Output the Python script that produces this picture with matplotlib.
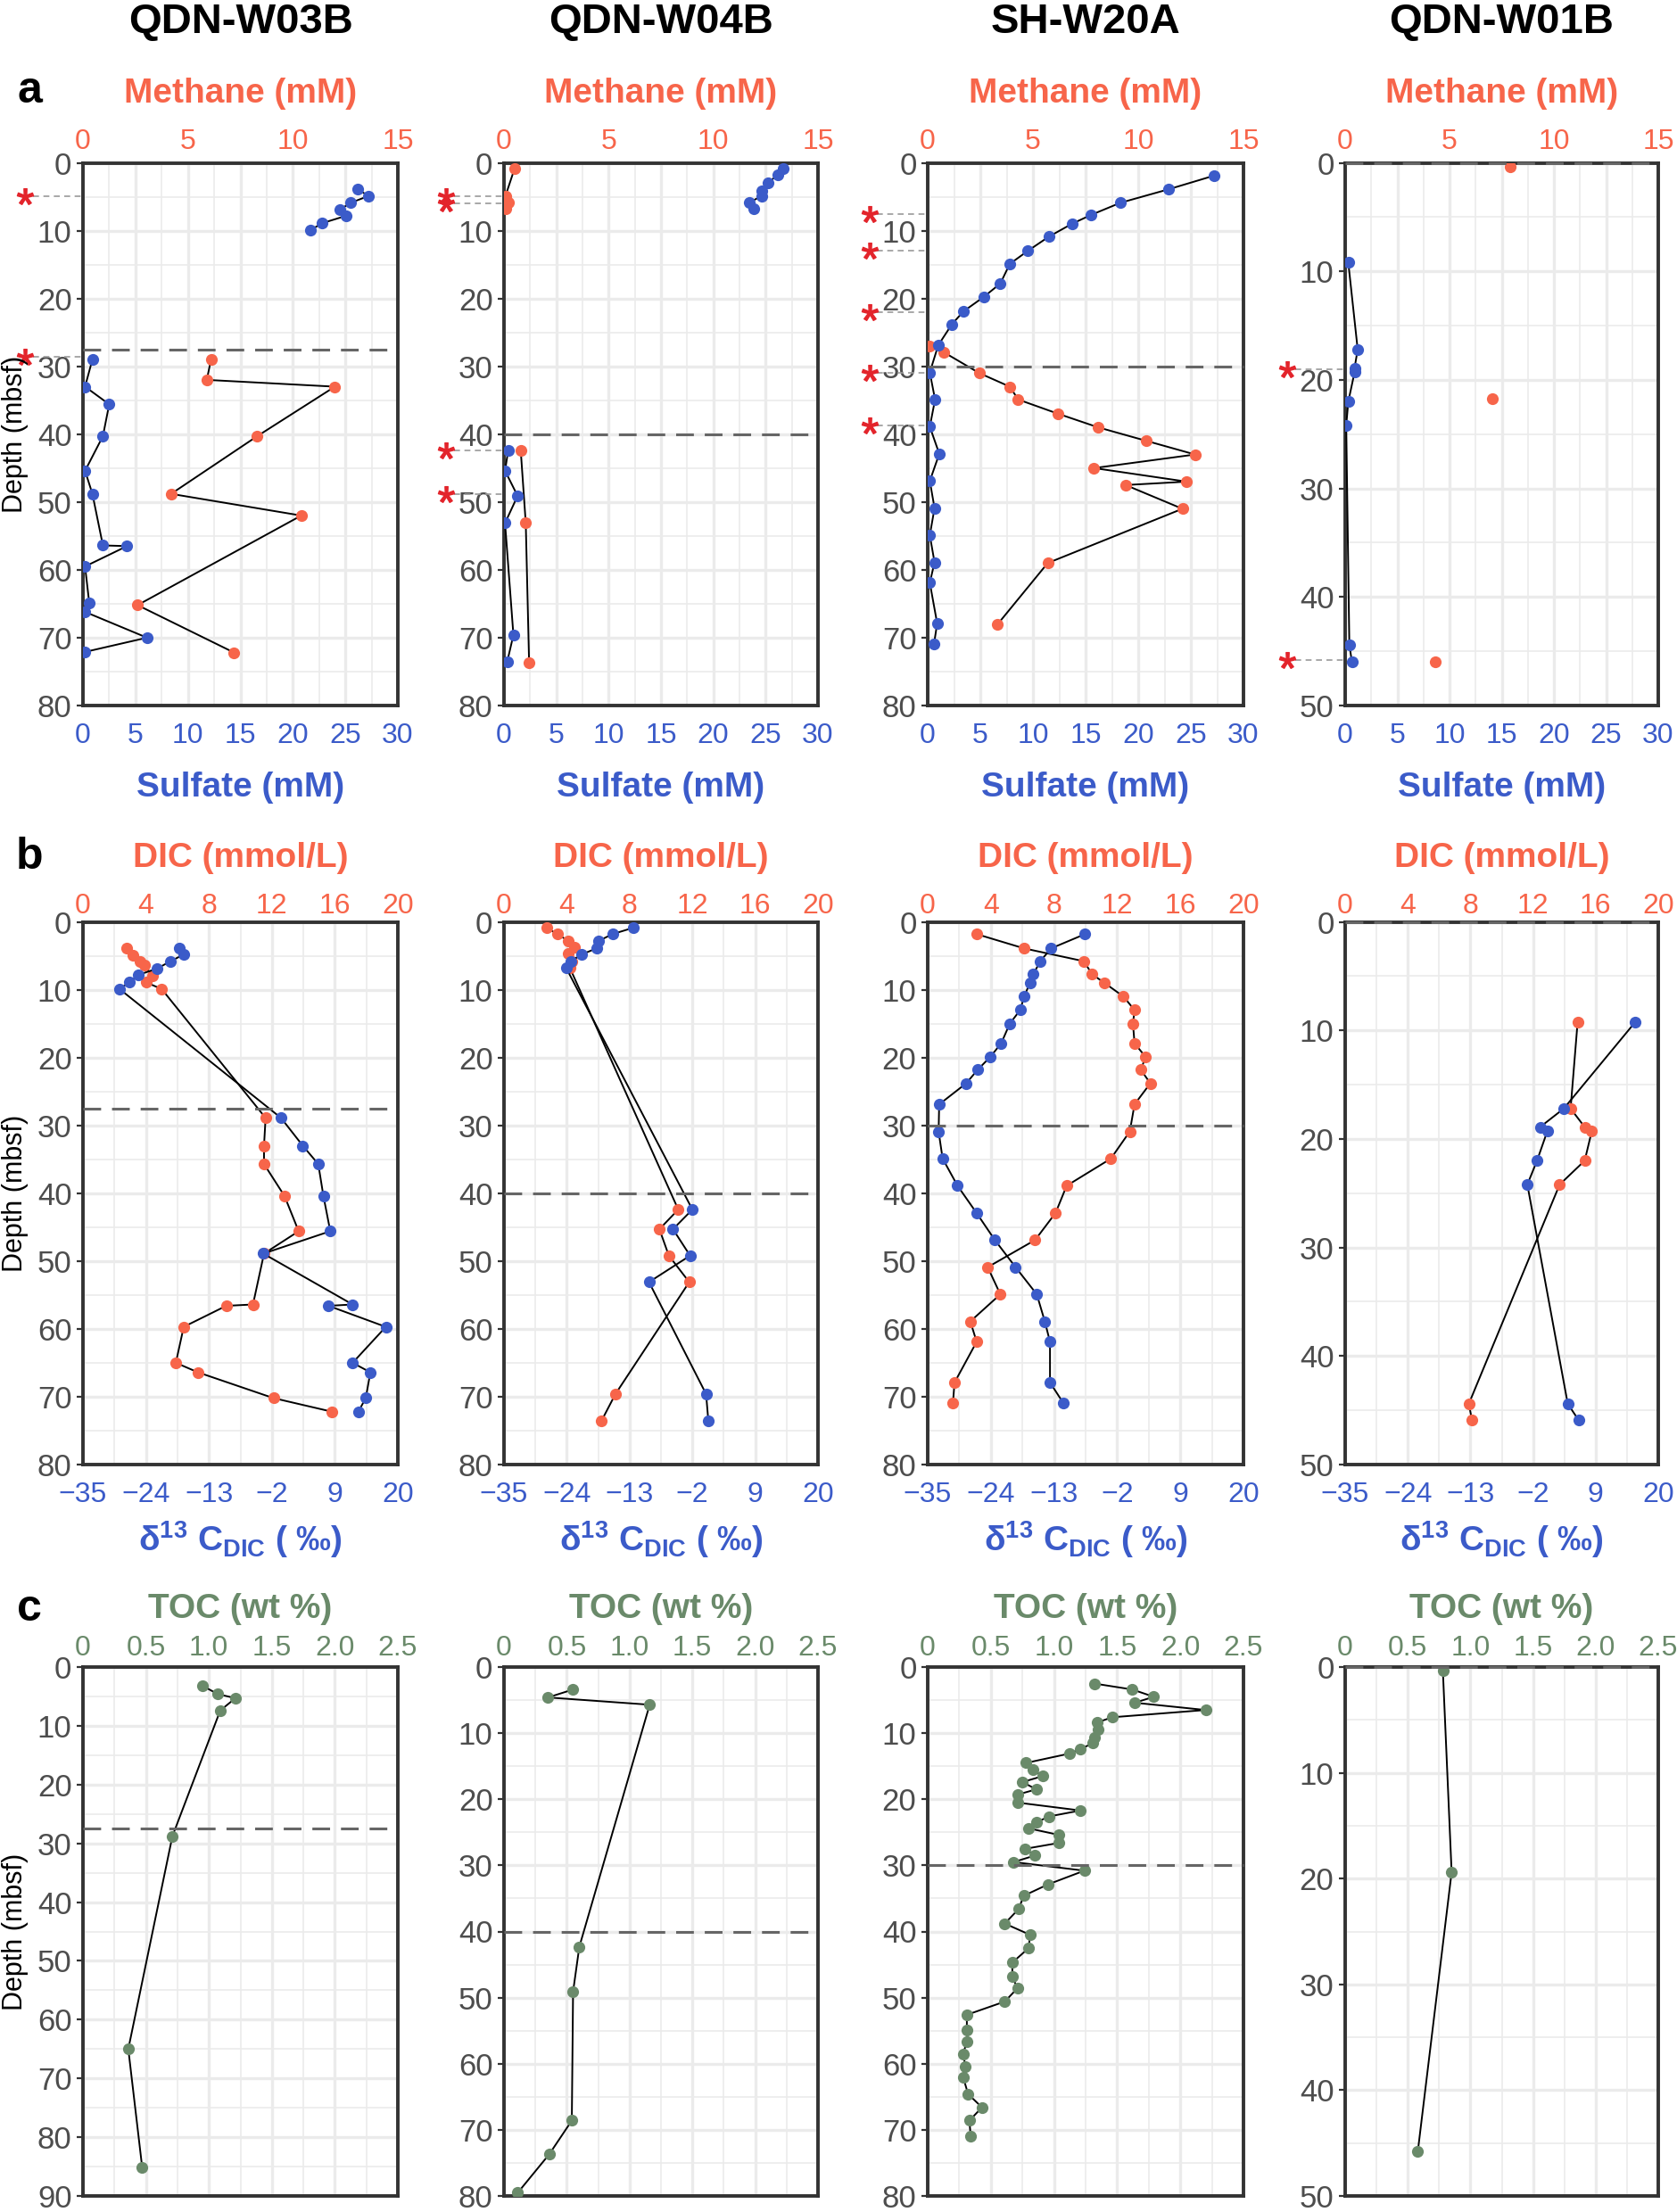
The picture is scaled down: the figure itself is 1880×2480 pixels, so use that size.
import matplotlib
matplotlib.use('Agg')
import matplotlib.pyplot as plt
from matplotlib import font_manager
from matplotlib.ticker import MultipleLocator, FuncFormatter

W, H = 1880, 2480

plt.rcParams['font.family'] = ['Liberation Sans', 'DejaVu Sans']
plt.rcParams['mathtext.fontset'] = 'custom'
plt.rcParams['mathtext.rm'] = 'Liberation Sans'
plt.rcParams['mathtext.bf'] = 'Liberation Sans:bold'
plt.rcParams['mathtext.it'] = 'Liberation Sans:italic'

names = {f.name for f in font_manager.fontManager.ttflist}
depth_font = 'Liberation Sans Narrow' if 'Liberation Sans Narrow' in names else 'Liberation Sans'

ORANGE = '#F7654A'
BLUE = '#3B5BC9'
GREEN = '#6A8A6A'
RED = '#E3242B'
FRAME = '#333333'
GRIDC = '#EBEBEB'
TICKC = '#4D4D4D'
SMTZC = '#666666'

sites = ['QDN-W03B', 'QDN-W04B', 'SH-W20A', 'QDN-W01B']

# ---------------- row a: sulfate / methane ----------------
# QDN-W03B
w03b_so4_up_d = [3.9, 4.9, 5.9, 6.9, 7.8, 8.9, 9.9]
w03b_so4_up = [26.2, 27.2, 25.5, 24.5, 25.1, 22.8, 21.7]
w03b_so4_lo_d = [29.0, 33.0, 35.6, 40.3, 45.4, 48.8, 56.4, 56.5, 59.5, 64.9, 66.2, 70.0, 72.1]
w03b_so4_lo = [0.9, 0.2, 2.5, 1.9, 0.2, 0.9, 1.9, 4.2, 0.2, 0.6, 0.2, 6.1, 0.2]
w03b_ch4_d = [29.0, 32.0, 33.0, 40.3, 48.8, 52.0, 65.2, 72.2]
w03b_ch4 = [6.1, 5.9, 12.0, 8.3, 4.2, 10.4, 2.6, 7.2]
# QDN-W04B
w04b_so4_up_d = [0.9, 1.8, 2.9, 4.1, 4.9, 5.9, 6.8]
w04b_so4_up = [26.7, 26.2, 25.2, 24.6, 24.6, 23.4, 23.9]
w04b_ch4_up_d = [0.9, 4.9, 5.9, 6.8]
w04b_ch4_up = [0.5, 0.07, 0.2, 0.07]
w04b_so4_lo_d = [42.4, 45.4, 49.1, 53.1, 69.6, 73.6]
w04b_so4_lo = [0.4, 0.1, 1.3, 0.1, 0.9, 0.3]
w04b_ch4_lo_d = [42.4, 53.1, 73.7]
w04b_ch4_lo = [0.8, 1.04, 1.2]
# SH-W20A
w20a_so4_d = [1.9, 3.9, 5.9, 7.7, 9.0, 10.9, 13.0, 14.9, 17.8, 19.8, 21.9, 23.8,
              26.9, 30.9, 34.9, 38.9, 42.9, 46.9, 50.9, 54.9, 58.9, 61.9, 67.9, 70.9]
w20a_so4 = [27.2, 22.9, 18.3, 15.5, 13.7, 11.5, 9.5, 7.8, 6.9, 5.3, 3.4, 2.3,
            1.0, 0.2, 0.7, 0.2, 1.1, 0.2, 0.65, 0.2, 0.65, 0.2, 0.9, 0.6]
w20a_ch4_d = [27.0, 27.9, 31.0, 33.0, 34.9, 37.0, 39.0, 41.0, 43.0, 45.0, 47.0, 47.5, 51.0, 59.0, 68.1]
w20a_ch4 = [0.1, 0.75, 2.45, 3.9, 4.3, 6.2, 8.1, 10.4, 12.7, 7.9, 12.3, 9.4, 12.1, 5.7, 3.3]
# QDN-W01B
w01b_so4_d = [9.2, 17.2, 18.9, 19.3, 22.0, 24.2, 44.4, 46.0]
w01b_so4 = [0.3, 1.2, 0.9, 0.9, 0.3, 0.1, 0.4, 0.65]
w01b_ch4_d = [0.4, 21.7, 46.0]
w01b_ch4 = [7.9, 7.05, 4.3]

# ---------------- row b: DIC / d13C-DIC ----------------
w03b_dic_d = [3.9, 4.9, 5.8, 6.4, 7.9, 8.9, 9.9, 28.9, 33.0, 35.7, 40.4, 45.6, 48.9,
              56.4, 56.6, 59.7, 65.0, 66.4, 70.2, 72.2]
w03b_dic = [2.8, 3.2, 3.6, 3.9, 4.4, 4.0, 5.0, 11.6, 11.5, 11.5, 12.8, 13.7, 11.5,
            10.8, 9.1, 6.4, 5.9, 7.3, 12.1, 15.8]
w03b_d13_d = [3.9, 4.8, 5.8, 6.9, 7.8, 8.9, 9.9, 28.9, 33.0, 35.7, 40.4, 45.6, 48.9,
              56.4, 56.6, 59.7, 65.0, 66.4, 70.2, 72.2]
w03b_d13 = [-18.2, -17.4, -19.7, -22.1, -25.3, -26.9, -28.6, -0.4, 3.4, 6.1, 7.0, 8.2, -3.5,
            12.1, 7.9, 17.9, 12.1, 15.2, 14.4, 13.1]

w04b_dic_d = [0.85, 1.8, 2.8, 3.7, 4.7, 5.8, 6.8, 42.4, 45.3, 49.2, 53.1, 69.6, 73.6]
w04b_dic = [2.7, 3.4, 4.1, 4.5, 4.1, 4.3, 4.2, 11.1, 9.9, 10.5, 11.8, 7.1, 6.2]
w04b_d13_d = [0.85, 1.8, 2.8, 3.9, 4.8, 5.8, 6.8, 42.4, 45.3, 49.2, 53.1, 69.6, 73.6]
w04b_d13 = [-12.3, -16.0, -18.4, -18.8, -21.4, -23.3, -24.1, -2.0, -5.4, -2.4, -9.6, 0.4, 0.8]

w20a_dic_d = [1.8, 3.9, 5.8, 7.7, 9.0, 11.0, 13.0, 15.0, 17.9, 19.9, 21.8, 23.8,
              26.9, 30.9, 34.9, 38.9, 42.9, 46.9, 50.9, 54.9, 58.9, 61.9, 67.9, 70.9]
w20a_dic = [3.1, 6.1, 9.9, 10.4, 11.2, 12.4, 13.1, 13.0, 13.1, 13.8, 13.5, 14.1,
            13.1, 12.8, 11.6, 8.8, 8.1, 6.8, 3.8, 4.6, 2.7, 3.1, 1.7, 1.6]
w20a_d13 = [-7.6, -13.5, -15.4, -16.6, -17.2, -18.2, -18.9, -20.7, -22.2, -24.1, -26.3, -28.3,
            -33.0, -33.1, -32.4, -29.8, -26.5, -23.3, -19.7, -16.0, -14.6, -13.7, -13.7, -11.4]

w01b_dic_d = [9.2, 17.2, 18.9, 19.3, 22.0, 24.2, 44.4, 45.9]
w01b_dic = [14.85, 14.4, 15.3, 15.75, 15.3, 13.7, 7.9, 8.1]
w01b_d13 = [16.0, 3.4, -0.75, 0.5, -1.3, -3.0, 4.1, 6.0]

# ---------------- row c: TOC ----------------
w03b_toc_d = [3.2, 4.6, 5.3, 7.4, 28.8, 65.0, 85.1]
w03b_toc = [0.95, 1.07, 1.21, 1.09, 0.71, 0.36, 0.47]
w04b_toc_d = [3.4, 4.6, 5.7, 42.3, 49.1, 68.6, 73.7, 79.5]
w04b_toc = [0.55, 0.35, 1.16, 0.60, 0.55, 0.54, 0.36, 0.11]
w20a_toc_d = [2.5, 3.4, 4.5, 5.4, 6.5, 7.6, 8.4, 9.5, 10.6, 11.5, 12.4, 13.1, 14.5, 15.5,
              16.5, 17.4, 18.5, 19.3, 20.5, 21.7, 22.6, 23.5, 24.4, 25.4, 26.6, 27.5, 28.5,
              29.5, 30.8, 32.9, 34.6, 36.6, 38.8, 40.5, 42.5, 44.7, 46.8, 48.6, 50.6, 52.6,
              54.9, 56.7, 58.5, 60.5, 62.0, 64.6, 66.6, 68.6, 70.9]
w20a_toc = [1.32, 1.62, 1.79, 1.64, 2.20, 1.46, 1.34, 1.35, 1.32, 1.31, 1.21, 1.12, 0.78, 0.83,
            0.91, 0.75, 0.86, 0.71, 0.71, 1.21, 0.96, 0.86, 0.80, 1.04, 1.04, 0.77, 0.85,
            0.68, 1.24, 0.95, 0.76, 0.72, 0.61, 0.81, 0.80, 0.67, 0.67, 0.71, 0.61, 0.31,
            0.31, 0.31, 0.28, 0.30, 0.28, 0.32, 0.43, 0.33, 0.34]
w01b_toc_d = [0.3, 19.4, 45.8]
w01b_toc = [0.78, 0.85, 0.58]

# SMTZ depth and asterisk depths for each site
smtz = [27.5, 40, 30, 0]
stars = [[4.9, 28.6], [4.9, 6.0, 42.4, 48.9], [7.5, 13.0, 22.0, 31.0, 38.7], [19.0, 45.85]]
depth_max = [[80, 80, 80, 50], [80, 80, 80, 50], [90, 80, 80, 50]]

# layout in pixels
col_left = [93, 565, 1040, 1508]
col_right = [446, 917, 1394, 1859]
row_top = [182.5, 1033.6, 1869]
row_bottom = [791, 1642, 2462]

fig = plt.figure(figsize=(W / 100, H / 100), dpi=100)


def box(col, row):
    l, r = col_left[col], col_right[col]
    t, b = row_top[row], row_bottom[row]
    return [l / W, 1 - b / H, (r - l) / W, (b - t) / H]


def ftext(x, y, s, **kw):
    return fig.text(x / W, 1 - y / H, s, **kw)


def frame(ax, ymax):
    ax.set_ylim(ymax, 0)
    ax.yaxis.set_major_locator(MultipleLocator(10))
    ax.yaxis.set_minor_locator(MultipleLocator(5))
    ax.grid(which='major', color=GRIDC, lw=2.4)
    ax.grid(which='minor', color=GRIDC, lw=1.2)
    ax.set_axisbelow(True)
    for s in ax.spines.values():
        s.set_color(FRAME)
        s.set_linewidth(2.8)
    ax.tick_params(axis='y', which='major', length=5, width=1.6, color=FRAME,
                   labelsize=25, labelcolor=TICKC, pad=4)
    ax.tick_params(axis='y', which='minor', length=0)


def top_axis(ax, hi, major, minor, fmt, color, pad):
    ax.set_xlim(0, hi)
    ax.xaxis.set_major_locator(MultipleLocator(major))
    ax.xaxis.set_minor_locator(MultipleLocator(minor))
    ax.xaxis.set_major_formatter(FuncFormatter(fmt))
    ax.xaxis.tick_top()
    ax.tick_params(axis='x', which='both', length=0, labelsize=23, labelcolor=color, pad=pad)


def bottom_axis(tw, lo, hi, ticks, color):
    tw.set_xlim(lo, hi)
    tw.set_xticks(ticks)
    tw.xaxis.tick_bottom()
    tw.tick_params(axis='x', which='both', length=0, labelsize=23, labelcolor=color, pad=14)
    for s in tw.spines.values():
        s.set_visible(False)


def profile(ax, vals, depth, color, line=True):
    if line:
        ax.plot(vals, depth, color='black', lw=1.4, zorder=3)
    ax.plot(vals, depth, ls='none', marker='o', ms=9.5, mfc=color, mec=color, mew=0, zorder=4)


def smtz_line(ax, d):
    ax.axhline(d, color=SMTZC, lw=2.2, dashes=(6.5, 4), zorder=10, clip_on=False)


def star_marks(ax, depths):
    tr = ax.get_yaxis_transform()
    for d in depths:
        ax.plot([-0.16, 0], [d, d], transform=tr, clip_on=False, color='#9A9A9A',
                lw=1.2, dashes=(4, 3), zorder=5)
        ax.plot([-0.185], [d], transform=tr, clip_on=False, ls='none', marker='$*$',
                ms=13, color=RED, zorder=6)


fmt_ch4 = lambda v, p: f'{v:g}' if abs(v / 5 - round(v / 5)) < 1e-6 else ''
fmt_int = lambda v, p: f'{v:g}'
fmt_toc = lambda v, p: '0' if abs(v) < 1e-9 else f'{v:.1f}'

# ---------- row a ----------
so4_sets = [[(w03b_so4_up, w03b_so4_up_d), (w03b_so4_lo, w03b_so4_lo_d)],
            [(w04b_so4_up, w04b_so4_up_d), (w04b_so4_lo, w04b_so4_lo_d)],
            [(w20a_so4, w20a_so4_d)],
            [(w01b_so4, w01b_so4_d)]]
ch4_sets = [[(w03b_ch4, w03b_ch4_d)],
            [(w04b_ch4_up, w04b_ch4_up_d), (w04b_ch4_lo, w04b_ch4_lo_d)],
            [(w20a_ch4, w20a_ch4_d)],
            [(w01b_ch4, w01b_ch4_d)]]

for c in range(4):
    ax = fig.add_axes(box(c, 0))
    tw = ax.twiny()
    frame(ax, depth_max[0][c])
    top_axis(ax, 15, 2.5, 1.25, fmt_ch4, ORANGE, 6)
    bottom_axis(tw, 0, 30, range(0, 31, 5), BLUE)
    for v, d in ch4_sets[c]:
        profile(ax, v, d, ORANGE, line=(c != 3))
    for v, d in so4_sets[c]:
        profile(tw, v, d, BLUE)
    smtz_line(tw, smtz[c])
    star_marks(ax, stars[c])
    cx = (col_left[c] + col_right[c]) / 2
    ftext(cx, 37, sites[c], ha='center', va='baseline', fontsize=34, fontweight='bold')
    ftext(cx, 115, 'Methane (mM)', ha='center', va='baseline', fontsize=28,
          fontweight='bold', color=ORANGE)
    ftext(cx, 893, 'Sulfate (mM)', ha='center', va='baseline', fontsize=28,
          fontweight='bold', color=BLUE)

# ---------- row b ----------
dic_sets = [(w03b_dic, w03b_dic_d), (w04b_dic, w04b_dic_d), (w20a_dic, w20a_dic_d), (w01b_dic, w01b_dic_d)]
d13_sets = [(w03b_d13, w03b_d13_d), (w04b_d13, w04b_d13_d), (w20a_d13, w20a_dic_d), (w01b_d13, w01b_dic_d)]

for c in range(4):
    ax = fig.add_axes(box(c, 1))
    tw = ax.twiny()
    frame(ax, depth_max[1][c])
    top_axis(ax, 20, 4, 2, fmt_int, ORANGE, 2)
    bottom_axis(tw, -35, 20, range(-35, 21, 11), BLUE)
    profile(ax, *dic_sets[c], ORANGE)
    profile(tw, *d13_sets[c], BLUE)
    smtz_line(tw, smtz[c])
    cx = (col_left[c] + col_right[c]) / 2
    ftext(cx, 972, 'DIC (mmol/L)', ha='center', va='baseline', fontsize=28,
          fontweight='bold', color=ORANGE)
    ftext(cx, 1739, r'$\mathbf{δ^{13}\ C_{DIC}\ (\ ‰)}$', ha='center', va='baseline',
          fontsize=28, color=BLUE)

# ---------- row c ----------
toc_sets = [(w03b_toc, w03b_toc_d), (w04b_toc, w04b_toc_d), (w20a_toc, w20a_toc_d), (w01b_toc, w01b_toc_d)]

for c in range(4):
    ax = fig.add_axes(box(c, 2))
    frame(ax, depth_max[2][c])
    top_axis(ax, 2.5, 0.5, 0.25, fmt_toc, GREEN, 4)
    profile(ax, *toc_sets[c], GREEN)
    smtz_line(ax, smtz[c])
    cx = (col_left[c] + col_right[c]) / 2
    ftext(cx, 1814, 'TOC (wt %)', ha='center', va='baseline', fontsize=28,
          fontweight='bold', color=GREEN)

# depth labels and panel letters
for r in range(3):
    cy = (row_top[r] + row_bottom[r]) / 2
    ftext(17, cy, 'Depth (mbsf)', rotation=90, ha='center', va='center', fontsize=22,
          family=depth_font)
for letter, y in zip(['a', 'b', 'c'], [115, 974, 1817]):
    ftext(33, y, letter, ha='center', va='baseline', fontsize=36, fontweight='bold')

fig.savefig('out.png', dpi=100)
